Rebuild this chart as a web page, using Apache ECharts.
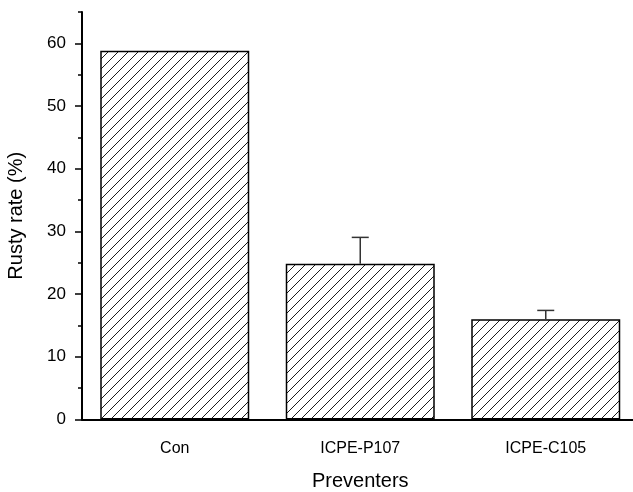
<!DOCTYPE html>
<html>
<head>
<meta charset="utf-8">
<script src="https://cdn.jsdelivr.net/npm/echarts@6/dist/echarts.min.js"></script>
<style>html,body{margin:0;padding:0;background:#fff;overflow:hidden}#c{width:633px;height:492px}</style>
</head>
<body>
<div id="c"></div>
<script>
const categories = ['Con', 'ICPE-P107', 'ICPE-C105'];
const rustyRate = [58.8, 24.85, 16.0];
const rustyErr = [0, 4.2, 1.4];
const majorTicks = [0, 10, 20, 30, 40, 50, 60];
const minorTicks = [5, 15, 25, 35, 45, 55, 65];

function hatch() {
  const s = 10;
  const c = document.createElement('canvas');
  c.width = s; c.height = s;
  const g = c.getContext('2d');
  g.fillStyle = '#fff'; g.fillRect(0, 0, s, s);
  g.strokeStyle = '#1a1a1a'; g.lineWidth = 1;
  g.beginPath();
  g.moveTo(-2, s + 2); g.lineTo(s + 2, -2);
  g.moveTo(-2 - s, s + 2); g.lineTo(2, -2);
  g.moveTo(s - 2, 2 * s + 2); g.lineTo(2 * s + 2, s - 2);
  g.stroke();
  return c;
}

const chart = echarts.init(document.getElementById('c'), null, {renderer: 'canvas', width: 633, height: 492});
const font = 'Liberation Sans, Arial, sans-serif';
chart.setOption({
  animation: false,
  backgroundColor: '#fff',
  grid: {left: 82, top: 12, width: 556.5, height: 407.5, containLabel: false, outerBoundsMode: 'none'},
  xAxis: {
    type: 'category',
    data: categories,
    name: 'Preventers',
    nameLocation: 'middle',
    nameGap: 52,
    nameTextStyle: {fontFamily: font, fontSize: 20, color: '#000'},
    axisLine: {lineStyle: {color: '#000', width: 2}},
    axisTick: {alignWithLabel: true, length: 6, lineStyle: {color: '#000', width: 2}},
    axisLabel: {fontFamily: font, fontSize: 16, color: '#000', margin: 21}
  },
  yAxis: [{
    type: 'value',
    min: 0, max: 65, interval: 10,
    name: 'Rusty rate (%)',
    nameLocation: 'middle',
    nameGap: 56,
    nameTextStyle: {fontFamily: font, fontSize: 20, color: '#000'},
    axisLine: {show: true, lineStyle: {color: '#000', width: 2}},
    axisTick: {show: true, length: 7, customValues: majorTicks, lineStyle: {color: '#000', width: 1.5}},
    axisLabel: {fontFamily: font, fontSize: 17, color: '#000', margin: 16, customValues: majorTicks},
    splitLine: {show: false}
  }, {
    type: 'value',
    position: 'left',
    min: 0, max: 65, interval: 5,
    axisLine: {show: false},
    axisTick: {show: true, length: 4, customValues: minorTicks, lineStyle: {color: '#000', width: 1.5}},
    axisLabel: {show: false},
    splitLine: {show: false}
  }],
  series: [{
    type: 'bar',
    data: rustyRate,
    barWidth: 149,
    itemStyle: {
      color: {image: hatch(), repeat: 'repeat'},
      borderColor: '#000',
      borderWidth: 1.5
    },
    z: 2
  }, {
    type: 'custom',
    z: 3,
    data: rustyRate.map((v, i) => [i, v, rustyErr[i]]),
    renderItem: function (params, api) {
      const i = api.value(0), v = api.value(1), e = api.value(2);
      if (!e) return null;
      const p0 = api.coord([i, v]);
      const p1 = api.coord([i, v + e]);
      const hw = 8.5;
      const st = {stroke: '#333', lineWidth: 1.5};
      return {
        type: 'group',
        children: [
          {type: 'line', shape: {x1: p0[0], y1: p0[1], x2: p1[0], y2: p1[1]}, style: st},
          {type: 'line', shape: {x1: p1[0] - hw, y1: p1[1], x2: p1[0] + hw, y2: p1[1]}, style: st}
        ]
      };
    }
  }]
});
</script>
</body>
</html>
